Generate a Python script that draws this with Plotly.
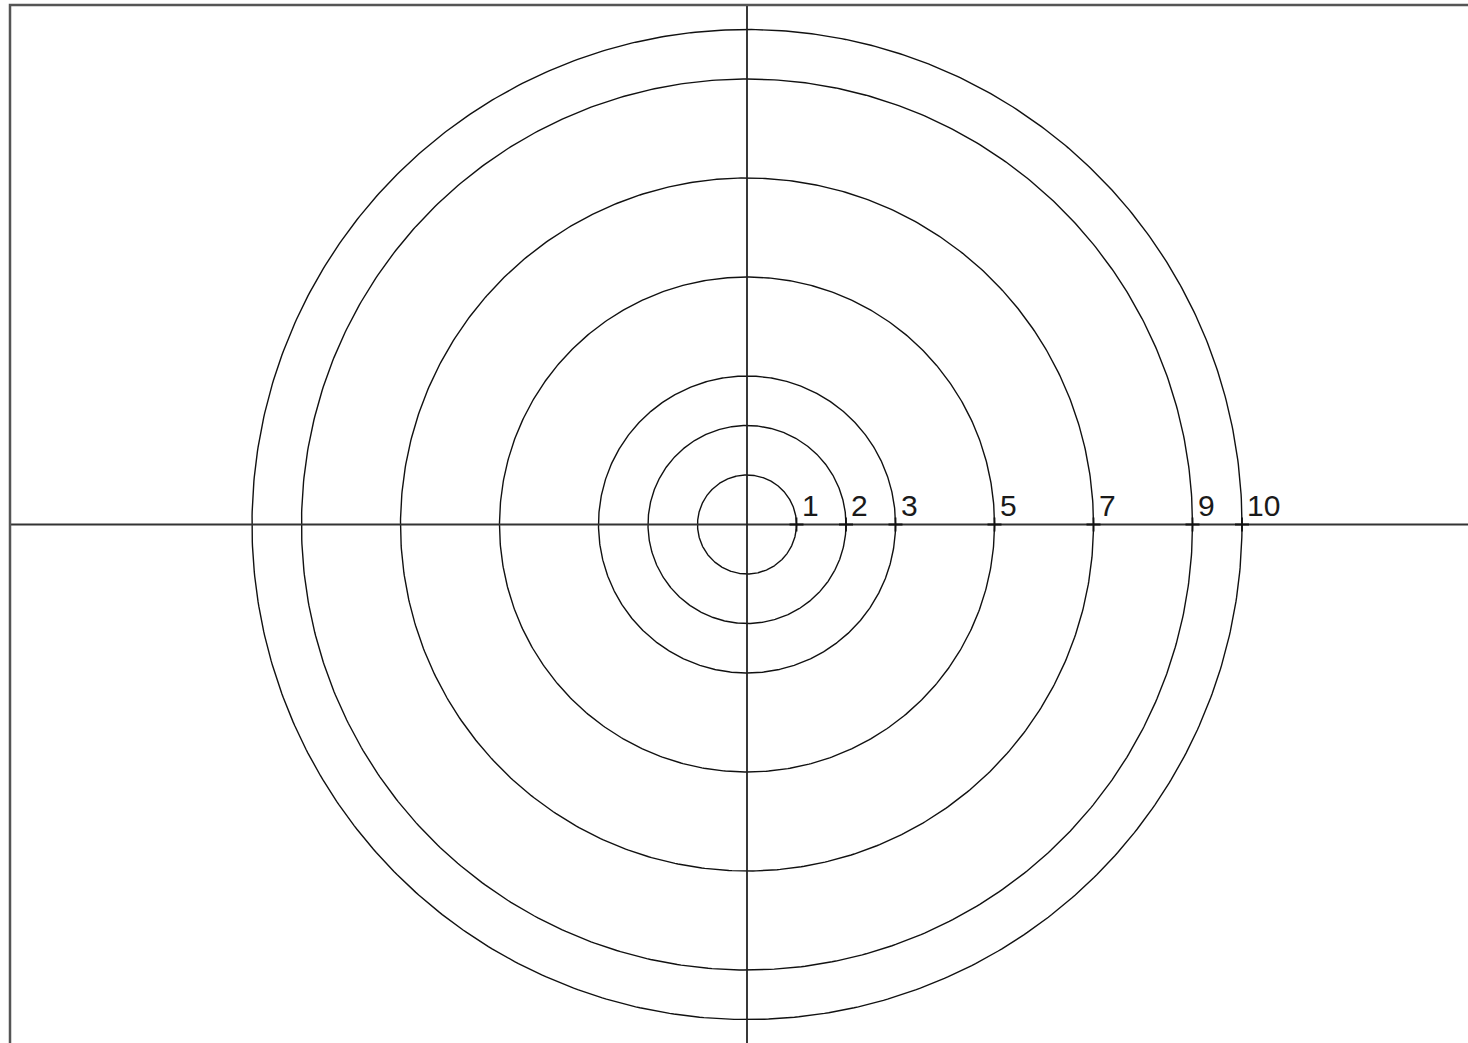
import numpy as np
import plotly.graph_objects as go

radii = [1, 2, 3, 5, 7, 9, 10]
labels = ["1", "2", "3", "5", "7", "9", "10"]

W, H = 1468, 1043
cx_px, cy_px = 747, 524.5
scale = 49.5  # px per unit
x_range = [-cx_px / scale, (W - cx_px) / scale]
y_range = [-(H - cy_px) / scale, cy_px / scale]

fig = go.Figure()

theta = np.linspace(0, 2 * np.pi, 721)
for r in radii:
    fig.add_trace(go.Scatter(x=r * np.cos(theta), y=r * np.sin(theta), mode="lines",
                             line=dict(color="#111111", width=1.4), hoverinfo="skip",
                             showlegend=False))

# axes lines
left_x = x_range[0] + 10 / scale
top_y = y_range[1] - 5 / scale
fig.add_trace(go.Scatter(x=[left_x, x_range[1]], y=[0, 0], mode="lines",
                         line=dict(color="#333333", width=1.8), showlegend=False, hoverinfo="skip"))
fig.add_trace(go.Scatter(x=[0, 0], y=[y_range[0], top_y], mode="lines",
                         line=dict(color="#222222", width=1.8), showlegend=False, hoverinfo="skip"))
# frame (top and left)
fig.add_trace(go.Scatter(x=[left_x, left_x, x_range[1]], y=[y_range[0], top_y, top_y], mode="lines",
                         line=dict(color="#555555", width=2.5), showlegend=False, hoverinfo="skip"))

# point markers
fig.add_trace(go.Scatter(x=radii, y=[0] * len(radii), mode="markers",
                         marker=dict(symbol="cross-thin", size=10, line=dict(color="#111111", width=1.8)),
                         showlegend=False, hoverinfo="skip"))

for r, lab in zip(radii, labels):
    fig.add_annotation(x=r, y=0, text=lab, showarrow=False, xanchor="left", yanchor="bottom",
                       xshift=3, yshift=1,
                       font=dict(family="Liberation Sans, Arial", size=30, color="#1a1a1a"))

fig.update_xaxes(range=x_range, visible=False, showgrid=False, zeroline=False)
fig.update_yaxes(range=y_range, visible=False, showgrid=False, zeroline=False)
fig.update_layout(width=W, height=H, margin=dict(l=0, r=0, t=0, b=0),
                  plot_bgcolor="white", paper_bgcolor="white", hovermode=False)

fig.write_html("out.html", config={"displayModeBar": False},
               post_script="document.body.style.margin='0';document.body.style.overflow='hidden';")
